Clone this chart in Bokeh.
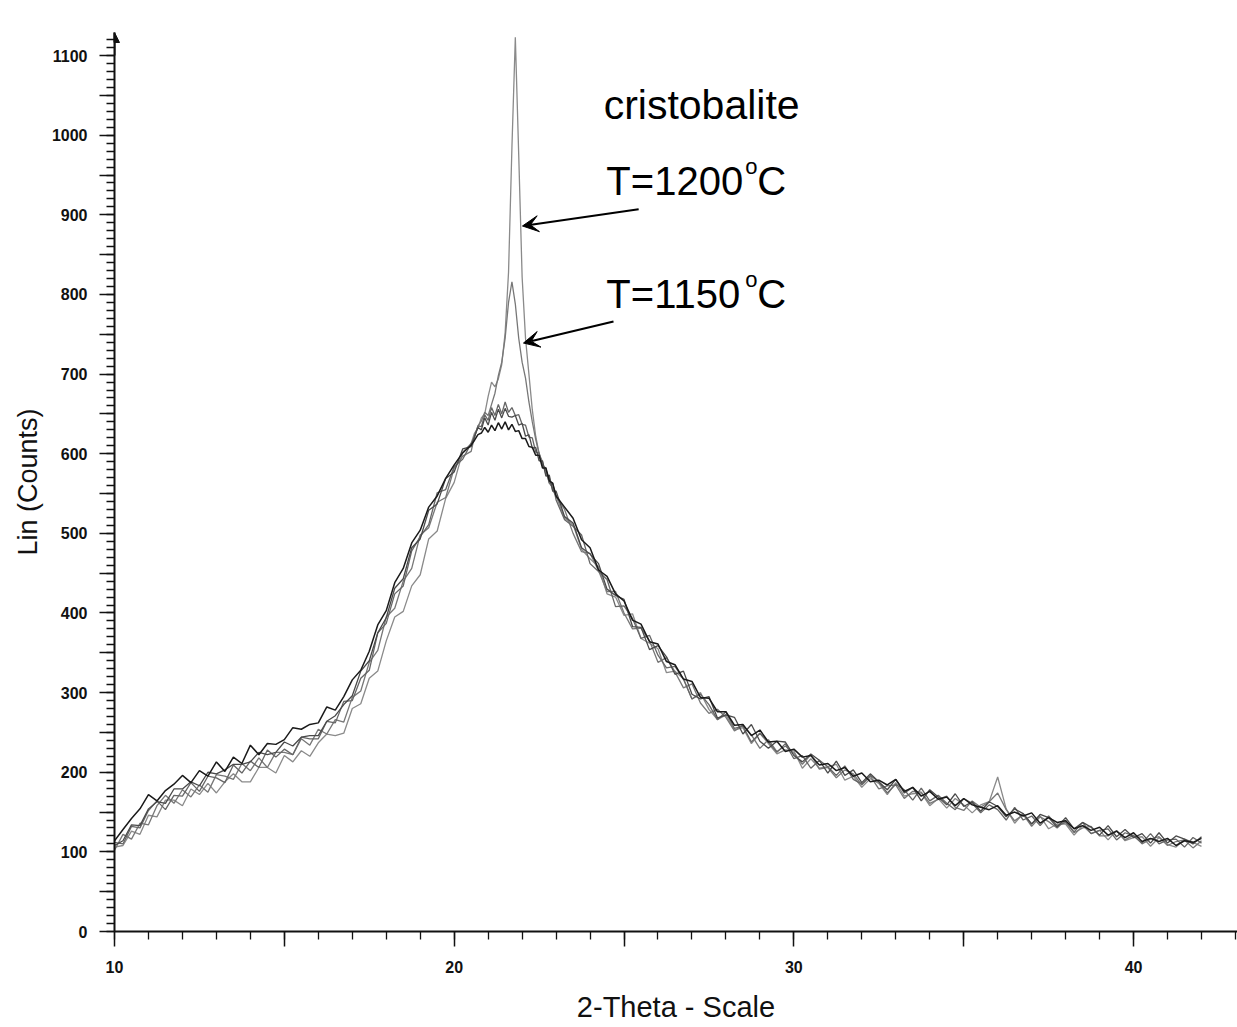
import numpy as np
from bokeh.plotting import figure
from bokeh.models import Range1d, FixedTicker, Arrow, NormalHead, VeeHead, Label
from bokeh.embed import file_html
from bokeh.resources import INLINE

# ---- 2-theta sampling grid (degrees) ----
two_theta = np.concatenate([
    np.arange(10.0, 20.51, 0.25),
    np.arange(20.6, 23.01, 0.1),
    np.arange(23.25, 42.01, 0.25),
]).round(2)

# ---- intensity series (Lin counts) ----
s1_left = [114, 128, 142, 154, 172, 164, 177, 185, 196, 187, 202, 195, 213, 201, 219, 211,
           234, 222, 236, 235, 241, 256, 254, 260, 262, 282, 278, 295, 316, 328, 352, 385,
           403, 438, 456, 488, 504, 533, 547, 569, 586, 601, 611]
s1_mid = [617, 624, 626, 633, 627, 636, 629, 639, 631, 640, 630, 637, 628, 629, 619, 619,
          609, 608, 598, 598, 582, 582, 566, 563, 547]
s1_right = [533, 519, 492, 482, 454, 446, 424, 415, 391, 386, 364, 361, 339, 335, 317, 314,
            294, 293, 276, 276, 259, 260, 246, 253, 238, 239, 226, 229, 219, 221, 209, 211,
            202, 206, 195, 199, 188, 190, 184, 191, 176, 181, 170, 176, 166, 169, 158, 167,
            159, 156, 153, 158, 146, 150, 145, 149, 136, 143, 137, 139, 129, 133, 127, 131,
            121, 126, 118, 124, 113, 117, 113, 117, 108, 114, 112, 117]

s2_left = [108, 114, 134, 133, 154, 163, 161, 179, 179, 188, 183, 200, 198, 203, 210, 210,
           213, 225, 222, 225, 238, 233, 244, 246, 246, 264, 271, 285, 296, 327, 340, 375,
           394, 431, 443, 482, 493, 529, 537, 569, 577, 606, 609]
s2_mid = [622, 633, 630, 645, 636, 652, 642, 656, 645, 657, 647, 646, 648, 636, 638, 622,
          624, 607, 608, 591, 591, 572, 573, 553, 553]
s2_right = [521, 513, 482, 474, 462, 430, 422, 417, 383, 382, 354, 359, 345, 323, 327, 298,
            292, 295, 268, 272, 269, 248, 260, 239, 230, 239, 238, 221, 213, 223, 215, 199,
            214, 196, 203, 187, 198, 188, 178, 191, 174, 181, 164, 178, 169, 159, 173, 157,
            163, 151, 163, 157, 144, 154, 148, 135, 147, 143, 131, 143, 129, 137, 131, 121,
            133, 119, 128, 118, 123, 111, 124, 111, 120, 116, 110, 119]

s3_left = [112, 110, 132, 130, 152, 164, 153, 171, 170, 187, 176, 195, 193, 187, 209, 199,
           214, 206, 228, 219, 229, 222, 244, 242, 242, 264, 262, 289, 290, 318, 328, 375,
           387, 424, 434, 478, 496, 511, 551, 555, 584, 593, 613]
s3_mid = [621, 635, 634, 649, 642, 658, 648, 662, 650, 665, 652, 658, 648, 649, 637, 636,
          621, 620, 602, 601, 585, 582, 563, 563, 542]
s3_right = [517, 509, 498, 462, 452, 442, 408, 409, 393, 368, 372, 347, 331, 333, 317, 292,
            298, 285, 266, 276, 255, 258, 238, 249, 238, 225, 236, 217, 221, 205, 215, 207,
            196, 208, 191, 185, 196, 188, 174, 185, 178, 165, 180, 164, 171, 161, 153, 167,
            161, 149, 159, 153, 140, 156, 140, 145, 133, 145, 133, 137, 125, 137, 123, 127,
            129, 115, 124, 120, 111, 123, 110, 115, 116, 106, 118, 111]

# T = 1150 C
s4_left = [102, 122, 116, 136, 134, 158, 171, 161, 178, 169, 184, 175, 197, 195, 191, 211,
           202, 218, 206, 225, 225, 222, 242, 234, 254, 248, 266, 263, 294, 302, 338, 353,
           395, 406, 440, 456, 498, 507, 539, 545, 582, 597, 603]
s4_mid = [622, 635, 641, 652, 648, 662, 676, 698, 715, 745, 790, 816, 788, 745, 715, 695,
          665, 640, 618, 600, 586, 578, 563, 557, 546]
s4_right = [530, 500, 477, 475, 453, 427, 427, 400, 380, 381, 365, 338, 344, 326, 306, 311,
            287, 274, 279, 269, 252, 259, 247, 230, 241, 226, 233, 224, 210, 222, 204, 206,
            193, 203, 198, 184, 195, 179, 183, 184, 167, 176, 175, 161, 166, 170, 156, 152,
            164, 156, 163, 174, 153, 139, 147, 132, 144, 138, 130, 140, 124, 130, 132, 120,
            120, 126, 115, 121, 110, 116, 119, 108, 113, 115, 105, 114]

# T = 1200 C
s5_left = [106, 108, 126, 122, 146, 144, 165, 165, 158, 179, 172, 186, 174, 188, 198, 188,
           188, 206, 206, 199, 221, 213, 227, 220, 237, 248, 246, 249, 280, 286, 318, 327,
           365, 395, 402, 434, 448, 493, 503, 544, 564, 602, 613]
s5_mid = [626, 632, 645, 650, 672, 690, 684, 694, 712, 752, 828, 985, 1123, 975, 822, 745,
          700, 655, 622, 600, 590, 574, 570, 554, 547]
s5_right = [519, 511, 480, 468, 458, 424, 420, 397, 399, 368, 362, 355, 325, 327, 317, 292,
            300, 279, 266, 272, 253, 256, 236, 249, 236, 223, 228, 227, 205, 217, 205, 207,
            210, 190, 195, 181, 192, 186, 172, 187, 170, 173, 174, 158, 167, 155, 167, 159,
            149, 159, 163, 194, 154, 136, 148, 135, 145, 129, 135, 135, 121, 133, 123, 127,
            115, 127, 114, 118, 119, 107, 118, 109, 106, 116, 112, 107]

series = [
    (s5_left + s5_mid + s5_right, "#8a8a8a", 1.3),
    (s4_left + s4_mid + s4_right, "#777777", 1.3),
    (s3_left + s3_mid + s3_right, "#666666", 1.3),
    (s2_left + s2_mid + s2_right, "#4a4a4a", 1.3),
    (s1_left + s1_mid + s1_right, "#1a1a1a", 1.5),
]

y_major = list(range(0, 1101, 50))
y_minor = list(range(0, 1121, 10))
x_major = list(range(10, 45, 5))
x_minor = list(range(10, 44))

FONT = "Liberation Sans"

p = figure(width=1237, height=1027, output_backend="svg", toolbar_location=None,
           x_range=Range1d(10, 43.06), y_range=Range1d(0, 1129),
           min_border_left=114, min_border_right=0, min_border_top=32, min_border_bottom=96)
p.outline_line_color = None
p.xgrid.visible = False
p.ygrid.visible = False
p.background_fill_color = "white"
p.border_fill_color = "white"

for ys, col, lw in series:
    p.line(two_theta, ys, line_color=col, line_width=lw)

for ax in (p.xaxis[0], p.yaxis[0]):
    ax.axis_line_width = 2
    ax.axis_line_color = "#111111"
    ax.major_tick_in = 0
    ax.minor_tick_in = 0
    ax.major_tick_line_width = 1.5
    ax.minor_tick_line_width = 1.3
    ax.major_tick_line_color = "#111111"
    ax.minor_tick_line_color = "#111111"
    ax.major_label_text_font = FONT
    ax.major_label_text_font_style = "bold"
    ax.major_label_text_font_size = "16px"
    ax.major_label_text_color = "#111111"
    ax.axis_label_text_font = FONT
    ax.axis_label_text_font_style = "normal"
    ax.axis_label_text_color = "#111111"

p.xaxis.ticker = FixedTicker(ticks=x_major, minor_ticks=x_minor)
p.xaxis.major_label_overrides = {t: ("" if t % 10 else str(t)) for t in x_major}
p.xaxis.major_tick_out = 15
p.xaxis.minor_tick_out = 8
p.xaxis.major_label_standoff = 14
p.xaxis.axis_label = "2-Theta - Scale"
p.xaxis.axis_label_text_font_size = "29px"
p.xaxis.axis_label_standoff = 15

p.yaxis.ticker = FixedTicker(ticks=y_major, minor_ticks=y_minor)
p.yaxis.major_label_overrides = {t: ("" if t % 100 else str(t)) for t in y_major}
p.yaxis.major_tick_out = 15
p.yaxis.minor_tick_out = 8
p.yaxis.major_label_standoff = 12
p.yaxis.axis_label = "Lin (Counts)"
p.yaxis.axis_label_text_font_size = "27px"
p.yaxis.axis_label_standoff = 6

# arrow head at top of y axis
p.add_layout(Arrow(end=NormalHead(size=10, fill_color="#111111", line_color="#111111"),
                   x_start=10, y_start=1100, x_end=10, y_end=1129,
                   line_width=2, line_color="#111111"))

# annotation arrows
p.add_layout(Arrow(end=VeeHead(size=16, fill_color="black", line_color="black"),
                   x_start=25.43, y_start=907, x_end=22.01, y_end=886,
                   line_width=2.2, line_color="black"))
p.add_layout(Arrow(end=VeeHead(size=16, fill_color="black", line_color="black"),
                   x_start=24.69, y_start=766, x_end=22.04, y_end=739,
                   line_width=2.2, line_color="black"))

def lab(x, y, text, size, dx=0, dy=0):
    p.add_layout(Label(x=x, y=y, text=text, x_offset=dx, y_offset=dy,
                       text_font=FONT, text_font_size=size, text_color="black",
                       text_baseline="alphabetic", text_align="left"))

lab(24.40, 1038, "cristobalite", "41px")
lab(24.48, 942, "T=1200", "40px")
lab(24.48, 942, "o", "22px", dx=139, dy=15)
lab(24.48, 942, "C", "40px", dx=151)
lab(24.48, 800, "T=1150", "40px")
lab(24.48, 800, "o", "22px", dx=139, dy=15)
lab(24.48, 800, "C", "40px", dx=151)

open("out.html", "w").write(file_html(p, INLINE))
